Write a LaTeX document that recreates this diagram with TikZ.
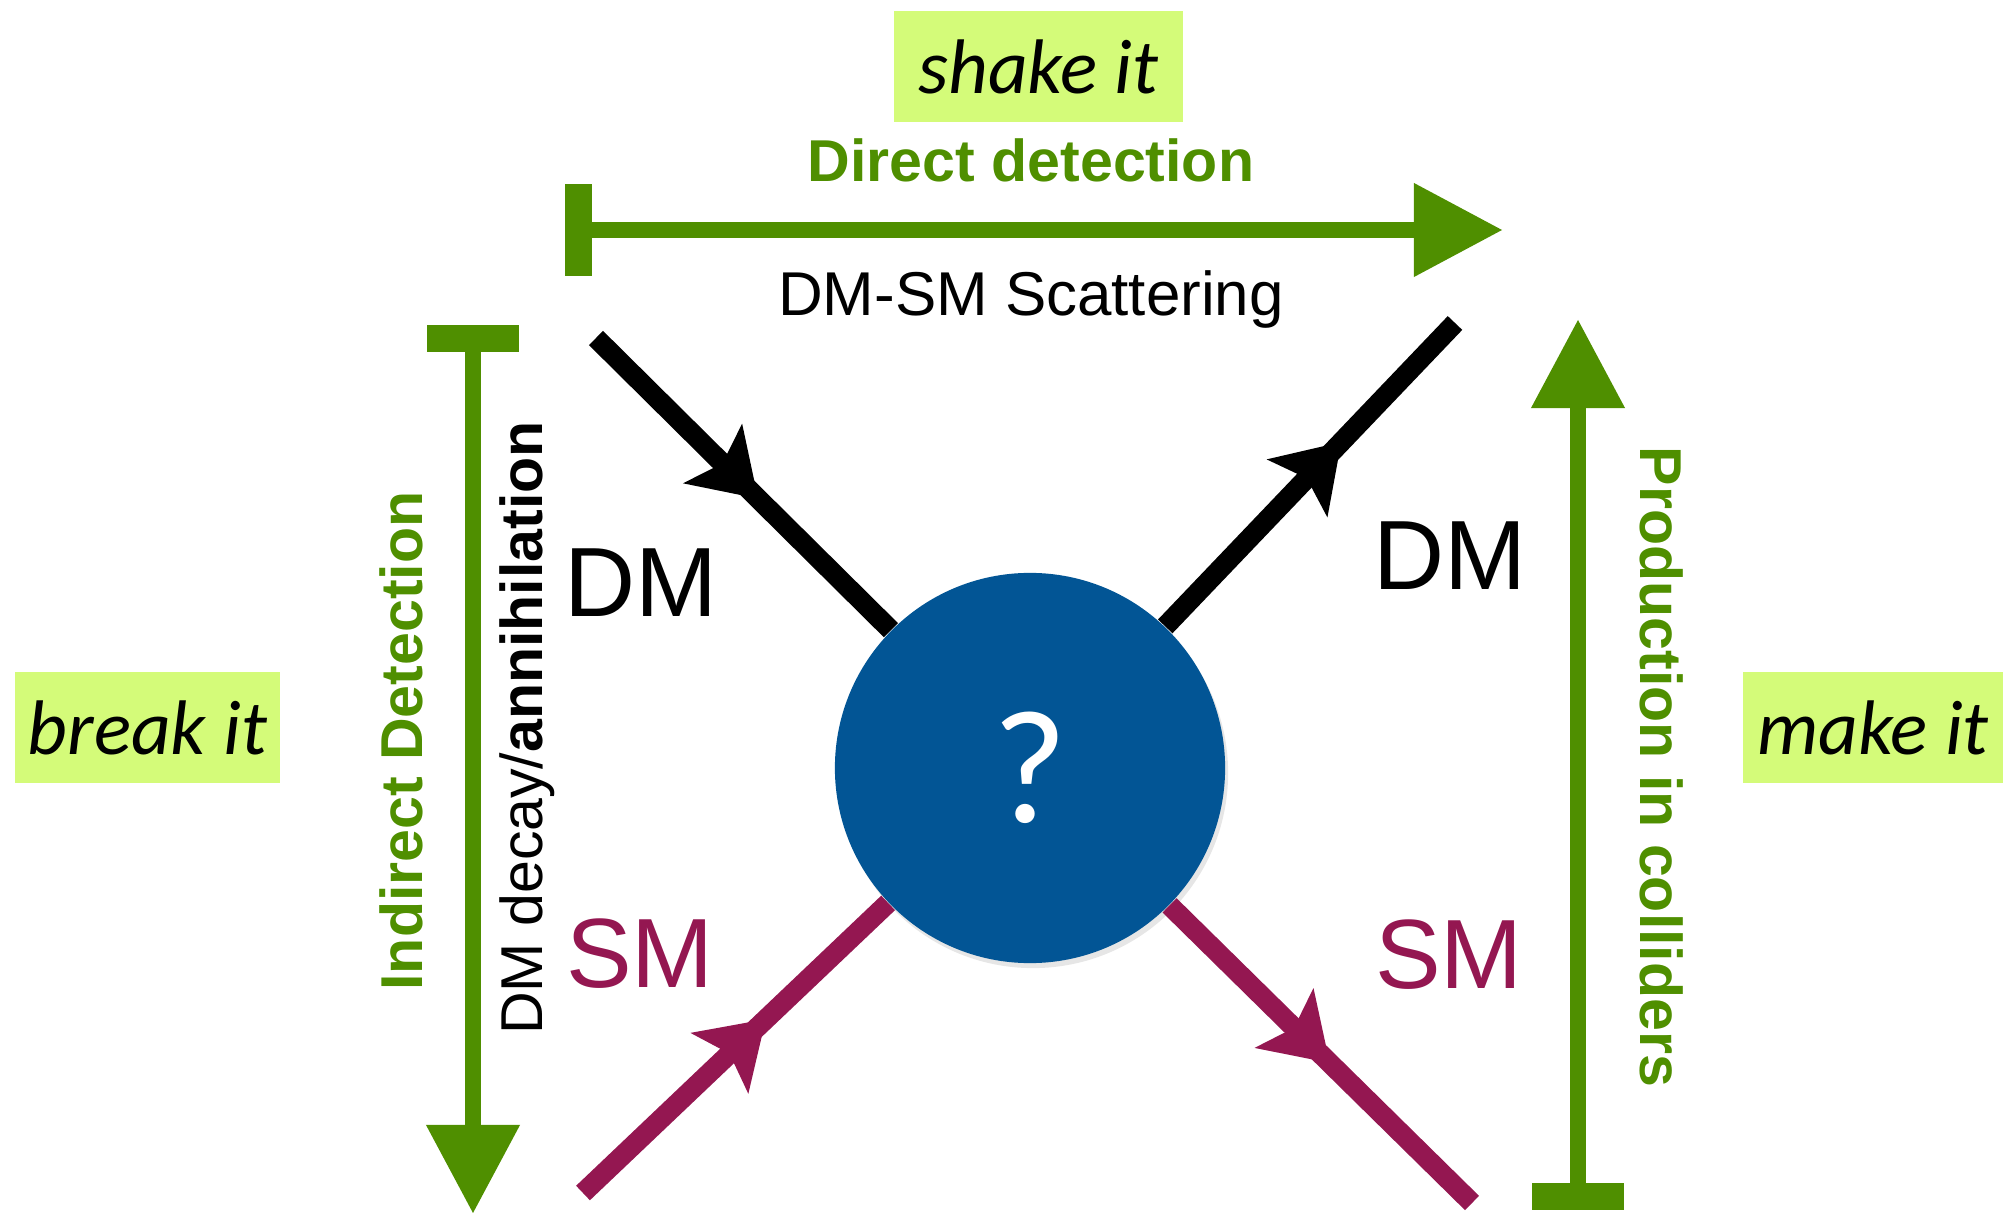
\documentclass[tikz,border=0pt]{standalone}
\usepackage{fontspec}
\setmainfont{Liberation Sans}
\newfontfamily\verbfont{Carlito}
\usetikzlibrary{arrows.meta,decorations.markings,shadows}
\definecolor{leaf}{HTML}{4F8F00}
\definecolor{lime}{HTML}{D4FB79}
\definecolor{rasp}{HTML}{941751}
\definecolor{ocean}{HTML}{025595}
\tikzset{
    verb/.style={
        fill=lime,
        minimum height=1.11cm,
        inner sep=0pt,
        font=\verbfont\itshape\fontsize{22}{24}\selectfont
    },
    method/.style={text=leaf, inner sep=0pt, font=\bfseries\fontsize{16.8}{18}\selectfont},
    process/.style={inner sep=0pt, font=\fontsize{16.8}{18}\selectfont},
    particle/.style={inner sep=0pt, font=\fontsize{28}{30}\selectfont},
    brush/.style={
        draw=leaf,
        line width=0.16cm,
        {Rectangle[length=0.27cm,width=0.92cm,line width=0pt]}-{Triangle[length=0.88cm,width=0.94cm,line width=0pt]}
    },
    leg/.style={line width=0.2cm},
    midarrow/.style={
        postaction=decorate,
        decoration={markings,
            mark=at position #1 with {\arrow{Stealth[length=0.64cm,width=0.84cm,inset=0.14cm,line width=0pt]}}}
    }
}
\begin{document}
\begin{tikzpicture}[x=0.01cm,y=-0.01cm]
    \useasboundingbox (0,0) rectangle (2003,1213);
    % the blob
    \node[circle, fill=ocean, minimum size=3.9cm, inner sep=0pt, text=white,
        drop shadow={opacity=0.2, shadow xshift=0.03cm, shadow yshift=-0.05cm}]
        (blob) at (1030,768) {\verbfont\fontsize{46}{48}\selectfont ?};
    % external legs
    \coordinate (dmin) at (596,338);
    \coordinate (dmout) at (1455,323);
    \coordinate (smin) at (583,1193);
    \coordinate (smout) at (1472,1203);
    \foreach \from/\to/\col/\pos in {dmin/blob/black/0.55, blob/dmout/black/0.61,
                                     smin/blob/rasp/0.60, blob/smout/rasp/0.53}
        \draw[leg, color=\col, midarrow=\pos] (\from) -- (\to);
    \node[particle] (dmleft) at (641,583) {DM};
    \node[particle] (dmright) at (1450,556) {DM};
    \node[particle, text=rasp] (smleft) at (640,954) {SM};
    \node[particle, text=rasp] (smright) at (1449,955) {SM};
    % the three ways
    \node[verb, minimum width=2.89cm] (shake) at (1038.5,66.5) {shake it};
    \node[verb, minimum width=2.65cm] (break) at (147.5,727.5) {break it};
    \node[verb, minimum width=2.60cm] (make) at (1873,727.5) {make it};
    % direct detection
    \coordinate (dd-start) at (565,230);
    \coordinate (dd-end) at (1502,230);
    \draw[brush] (dd-start) -- (dd-end);
    \node[method, anchor=base] (ddlabel) at (1031,182) {Direct detection};
    \node[process, anchor=base, font=\fontsize{17.6}{19}\selectfont] (scatter) at (1031,316) {DM-SM Scattering};
    % indirect detection
    \coordinate (id-start) at (473,325);
    \coordinate (id-end) at (473,1213);
    \draw[brush] (id-start) -- (id-end);
    \node[method, anchor=base, rotate=90] (idlabel) at (422,741) {Indirect Detection};
    \node[process, anchor=base, rotate=90] (annih) at (542,728) {DM decay/\textbf{annihilation}};
    % colliders
    \coordinate (pc-start) at (1578,1210);
    \coordinate (pc-end) at (1578,320);
    \draw[brush] (pc-start) -- (pc-end);
    \node[method, anchor=base, rotate=-90] (pclabel) at (1640,767) {Production in colliders};
\end{tikzpicture}
\end{document}
